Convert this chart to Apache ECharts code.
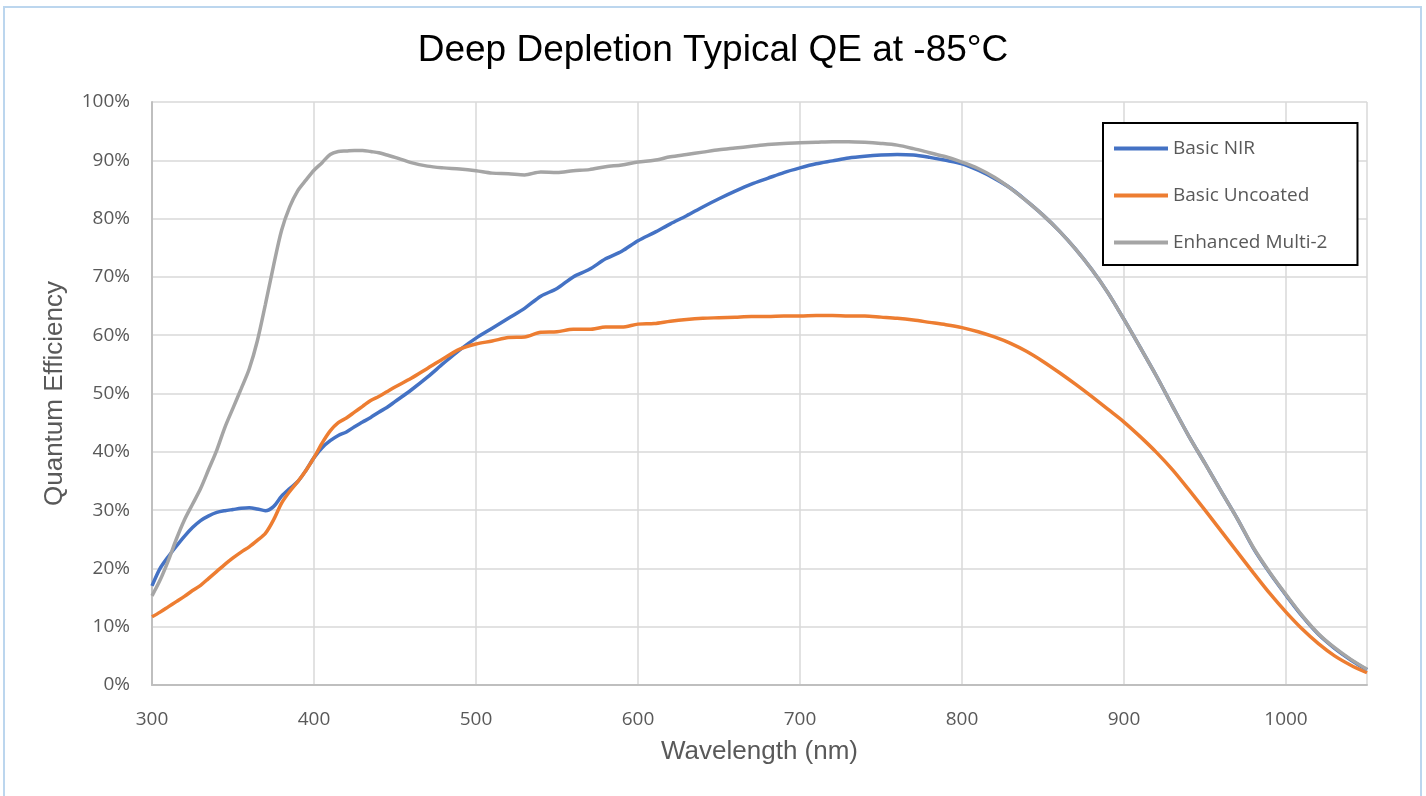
<!DOCTYPE html>
<html>
<head>
<meta charset="utf-8">
<script src="https://cdn.jsdelivr.net/npm/echarts@6/dist/echarts.min.js"></script>
<style>
  html, body { margin: 0; padding: 0; background: #fff; overflow: hidden; }
  #chart { position: absolute; left: 0; top: 0; width: 1426px; height: 796px; }
  #frame {
    position: absolute; left: 3px; top: 6px; width: 1415px; height: 800px;
    border: 2px solid #bcd6ee; pointer-events: none;
  }
</style>
</head>
<body>
<div id="chart"></div>
<div id="frame"></div>
<script>
// wavelength samples (nm)
const wavelengths = [
  300, 305, 310, 315, 320, 325, 330, 335, 340, 345, 350, 355, 360, 365, 370, 375,
  380, 385, 390, 395, 400, 405, 410, 415, 420, 425, 430, 435, 440, 445, 450,
  460, 470, 480, 490, 500, 510, 520, 530, 540, 550, 560, 570, 580, 590, 600,
  610, 620, 630, 640, 650, 660, 670, 680, 690, 700, 710, 720, 730, 740, 750,
  760, 770, 780, 790, 800, 810, 820, 830, 840, 850, 860, 870, 880, 890, 900,
  910, 920, 930, 940, 950, 960, 970, 980, 990, 1000, 1010, 1020, 1030, 1040, 1050
];

// QE in percent
const basicNIR = [
  17.0, 20.0, 22.0, 23.8, 25.5, 27.0, 28.2, 29.0, 29.6, 29.9, 30.1, 30.3, 30.4, 30.2, 29.9, 30.6,
  32.4, 33.7, 34.9, 36.8, 39.0, 40.7, 41.9, 42.8, 43.4, 44.3, 45.1, 45.9, 46.8, 47.6, 48.6,
  50.6, 52.8, 55.2, 57.5, 59.5, 61.2, 62.9, 64.6, 66.7, 68.0, 70.0, 71.3, 73.1, 74.4, 76.2,
  77.6, 79.1, 80.5, 82.0, 83.4, 84.7, 85.9, 86.9, 87.9, 88.7, 89.4, 89.9, 90.4, 90.7, 90.9,
  91.0, 90.9, 90.5, 90.0, 89.4, 88.3, 86.9, 85.2, 83.0, 80.6, 77.9, 74.8, 71.3, 67.3, 62.7,
  57.9, 53.0, 47.8, 42.7, 38.0, 33.2, 28.5, 23.4, 19.2, 15.4, 11.8, 8.7, 6.3, 4.3, 2.6
];

const basicUncoated = [
  11.7, 12.5, 13.4, 14.3, 15.2, 16.2, 17.1, 18.3, 19.5, 20.7, 21.8, 22.8, 23.7, 24.8, 26.0, 28.3,
  31.2, 33.2, 34.9, 36.8, 39.0, 41.5, 43.6, 45.0, 45.8, 46.8, 47.8, 48.8, 49.5, 50.3, 51.1,
  52.6, 54.3, 56.0, 57.6, 58.5, 59.0, 59.6, 59.7, 60.5, 60.6, 61.0, 61.0, 61.4, 61.4, 61.9,
  62.0, 62.4, 62.7, 62.9, 63.0, 63.1, 63.2, 63.2, 63.3, 63.3, 63.4, 63.4, 63.3, 63.3, 63.1,
  62.9, 62.6, 62.2, 61.8, 61.3, 60.6, 59.7, 58.6, 57.2, 55.5, 53.6, 51.6, 49.5, 47.3, 45.1,
  42.6, 39.9, 36.9, 33.5, 30.0, 26.4, 22.8, 19.2, 15.7, 12.5, 9.6, 7.1, 5.0, 3.4, 2.1
];

const enhancedMulti2 = [
  15.3, 18.0, 21.3, 25.0, 28.3, 31.0, 33.7, 37.0, 40.3, 44.2, 47.5, 50.8, 54.2, 59.0, 65.3, 71.9,
  78.0, 82.0, 84.8, 86.6, 88.3, 89.6, 91.0, 91.5, 91.6, 91.7, 91.7, 91.5, 91.3, 90.9, 90.5,
  89.6, 89.0, 88.7, 88.5, 88.2, 87.8, 87.7, 87.5, 88.0, 87.9, 88.2, 88.4, 88.9, 89.2, 89.7,
  90.0, 90.6, 91.0, 91.4, 91.8, 92.1, 92.4, 92.7, 92.9, 93.0, 93.1, 93.2, 93.2, 93.1, 92.9,
  92.6, 92.0, 91.3, 90.6, 89.7, 88.6, 87.1, 85.2, 83.0, 80.6, 77.9, 74.8, 71.3, 67.3, 62.7,
  57.9, 53.0, 47.8, 42.7, 38.0, 33.2, 28.5, 23.5, 19.3, 15.5, 11.9, 8.8, 6.4, 4.4, 2.7
];

const seriesNames = ["Basic NIR", "Basic Uncoated", "Enhanced Multi-2"];
const seriesColors = ["#4472c4", "#ed7d31", "#a5a5a5"];
const seriesValues = [basicNIR, basicUncoated, enhancedMulti2];

const tickFont = "'Open Sans', 'Noto Sans', sans-serif";
const labelFont = "'Liberation Sans', Arial, sans-serif";

const chart = echarts.init(document.getElementById("chart"));

const option = {
  animation: false,
  backgroundColor: "#fff",
  title: {
    text: "Deep Depletion Typical QE at -85°C",
    left: "center",
    top: 27,
    textStyle: {
      fontFamily: labelFont,
      fontSize: 37,
      fontWeight: "normal",
      color: "#000",
    },
  },
  grid: {
    left: 152,
    right: 59,
    top: 102,
    bottom: 111,
  },
  legend: {
    orient: "vertical",
    left: 1103,
    top: 123,
    padding: [16, 30, 13, 11],
    itemGap: 28,
    itemWidth: 54,
    itemHeight: 4,
    icon: "rect",
    borderColor: "#000",
    borderWidth: 2,
    backgroundColor: "#fff",
    data: seriesNames,
    textStyle: {
      fontFamily: tickFont,
      fontSize: 19,
      color: "#595959",
    },
  },
  xAxis: {
    type: "value",
    min: 300,
    max: 1050,
    interval: 100,
    name: "Wavelength (nm)",
    nameLocation: "middle",
    nameGap: 54,
    nameTextStyle: {
      fontFamily: labelFont,
      fontSize: 26,
      color: "#595959",
    },
    axisLine: { show: true, lineStyle: { color: "#bfbfbf", width: 2 } },
    axisTick: { show: false },
    axisLabel: {
      margin: 25,
      fontFamily: tickFont,
      fontSize: 19,
      color: "#595959",
      showMaxLabel: false,
      formatter: (v) => String(v),
    },
    splitLine: { show: true, lineStyle: { color: "#d9d9d9", width: 1.5 } },
  },
  yAxis: {
    type: "value",
    min: 0,
    max: 100,
    interval: 10,
    name: "Quantum Efficiency",
    nameLocation: "middle",
    nameGap: 84,
    nameRotate: 90,
    nameTextStyle: {
      fontFamily: labelFont,
      fontSize: 26,
      color: "#595959",
    },
    axisLine: { show: true, lineStyle: { color: "#bfbfbf", width: 2 } },
    axisTick: { show: false },
    axisLabel: {
      margin: 22,
      fontFamily: tickFont,
      fontSize: 19,
      color: "#595959",
      formatter: "{value}%",
    },
    splitLine: { show: true, lineStyle: { color: "#d9d9d9", width: 1.5 } },
  },
  series: [],
};

seriesNames.forEach((name, idx) => {
  option.series.push({
    name: name,
    type: "line",
    smooth: 0.3,
    showSymbol: false,
    symbol: "none",
    lineStyle: { color: seriesColors[idx], width: 3.5 },
    itemStyle: { color: seriesColors[idx] },
    z: 2 + idx,
    data: wavelengths.map((w, i) => [w, seriesValues[idx][i]]),
  });
});

chart.setOption(option);
</script>
</body>
</html>
